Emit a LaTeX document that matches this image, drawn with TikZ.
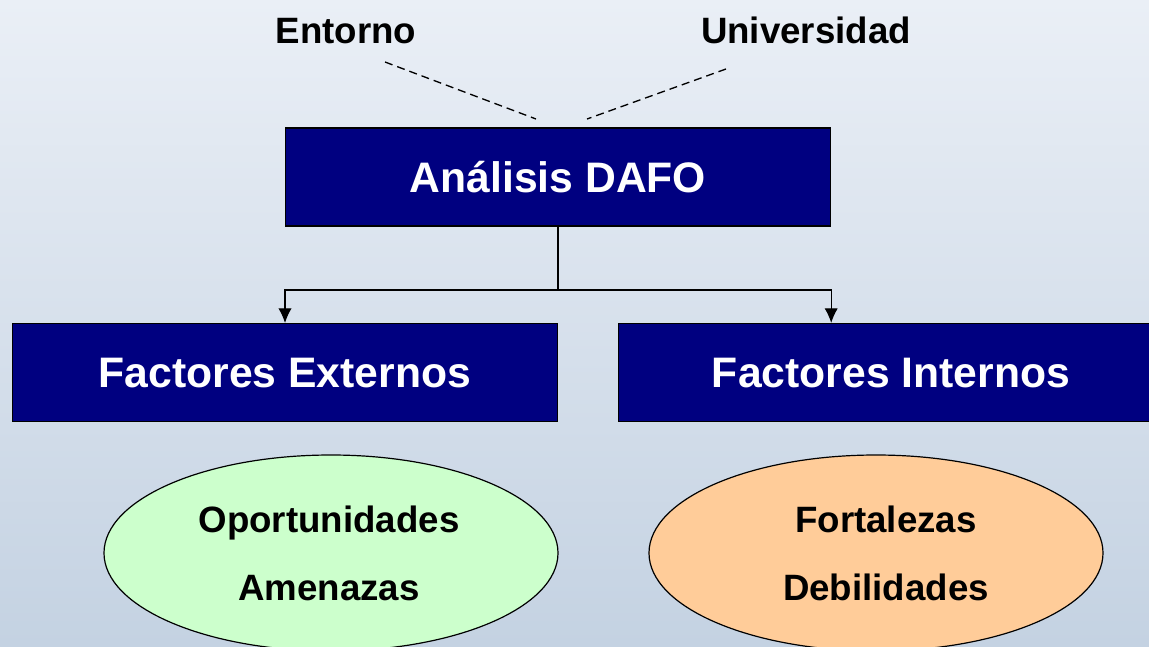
\documentclass[tikz,border=0pt]{standalone}
\usepackage{fontspec}
\setmainfont{Liberation Sans}
\usetikzlibrary{shapes.geometric,arrows.meta,positioning}
\definecolor{dafoblue}{RGB}{0,0,128}
\definecolor{oppgreen}{RGB}{204,255,204}
\definecolor{fortorange}{RGB}{255,204,153}
\definecolor{bgtop}{RGB}{234,239,246}
\definecolor{bgbottom}{RGB}{196,210,226}
\tikzstyle{block} = [draw=black, line width=0.8pt, fill=dafoblue, text=white, rectangle,
    minimum height=73.5pt, minimum width=409pt, text height=23pt, text depth=0pt,
    font=\fontsize{32}{38}\selectfont\bfseries]
\tikzstyle{swot} = [draw=black, line width=0.9pt, ellipse, inner sep=0pt,
    minimum width=340.5pt, minimum height=147pt]
\tikzstyle{swotlabel} = [align=center, inner sep=0pt,
    font=\fontsize{27.5}{51}\selectfont\bfseries]
\tikzstyle{tag} = [anchor=base, inner sep=0pt, font=\fontsize{27.5}{33}\selectfont\bfseries]
\tikzstyle{link} = [dashed, line width=1pt, dash pattern=on 6pt off 3.75pt]

\begin{document}
\begin{tikzpicture}[x=0.75pt, y=-0.75pt, >={Latex[length=11pt,width=10pt]}]
  \useasboundingbox (0,0) rectangle (1149,646);
  \clip (0,0) rectangle (1149,646);
  \shade [top color=bgtop, bottom color=bgbottom] (0,0) rectangle (1149,646);

  \node [tag] (entorno) at (346,43) {Entorno};
  \node [tag] (univ) at (806,43) {Universidad};

  \node [block] (dafo) at (558,177) {Análisis DAFO};
  \node [block] (ext) at (285,372.5) {Factores Externos};
  \node [block] (int) at (891,372.5) {Factores Internos};

  \node [swot, fill=oppgreen] (oa) at (331,553) {};
  \node [swot, fill=fortorange] (fd) at (876,553) {};
  \node [swotlabel] (oalabel) at (329,553) {Oportunidades\\Amenazas};
  \node [swotlabel] (fdlabel) at (886,553) {Fortalezas\\Debilidades};

  % dashed hints above the box
  \coordinate (entstart) at (385,62);
  \coordinate (entend) at (536,119);
  \coordinate (univstart) at (726,69);
  \coordinate (univend) at (587,119);
  \draw [link] (entstart) -- (entend);
  \draw [link] (univstart) -- (univend);

  \coordinate (split) at (558,290);
  \draw [line width=0.9pt] (dafo.south) -- (split);
  \draw [->, line width=0.9pt] (split) -| (ext.north);
  \draw [->, line width=0.9pt] (split) -| (int.north -| dafo.east);
\end{tikzpicture}
\end{document}
